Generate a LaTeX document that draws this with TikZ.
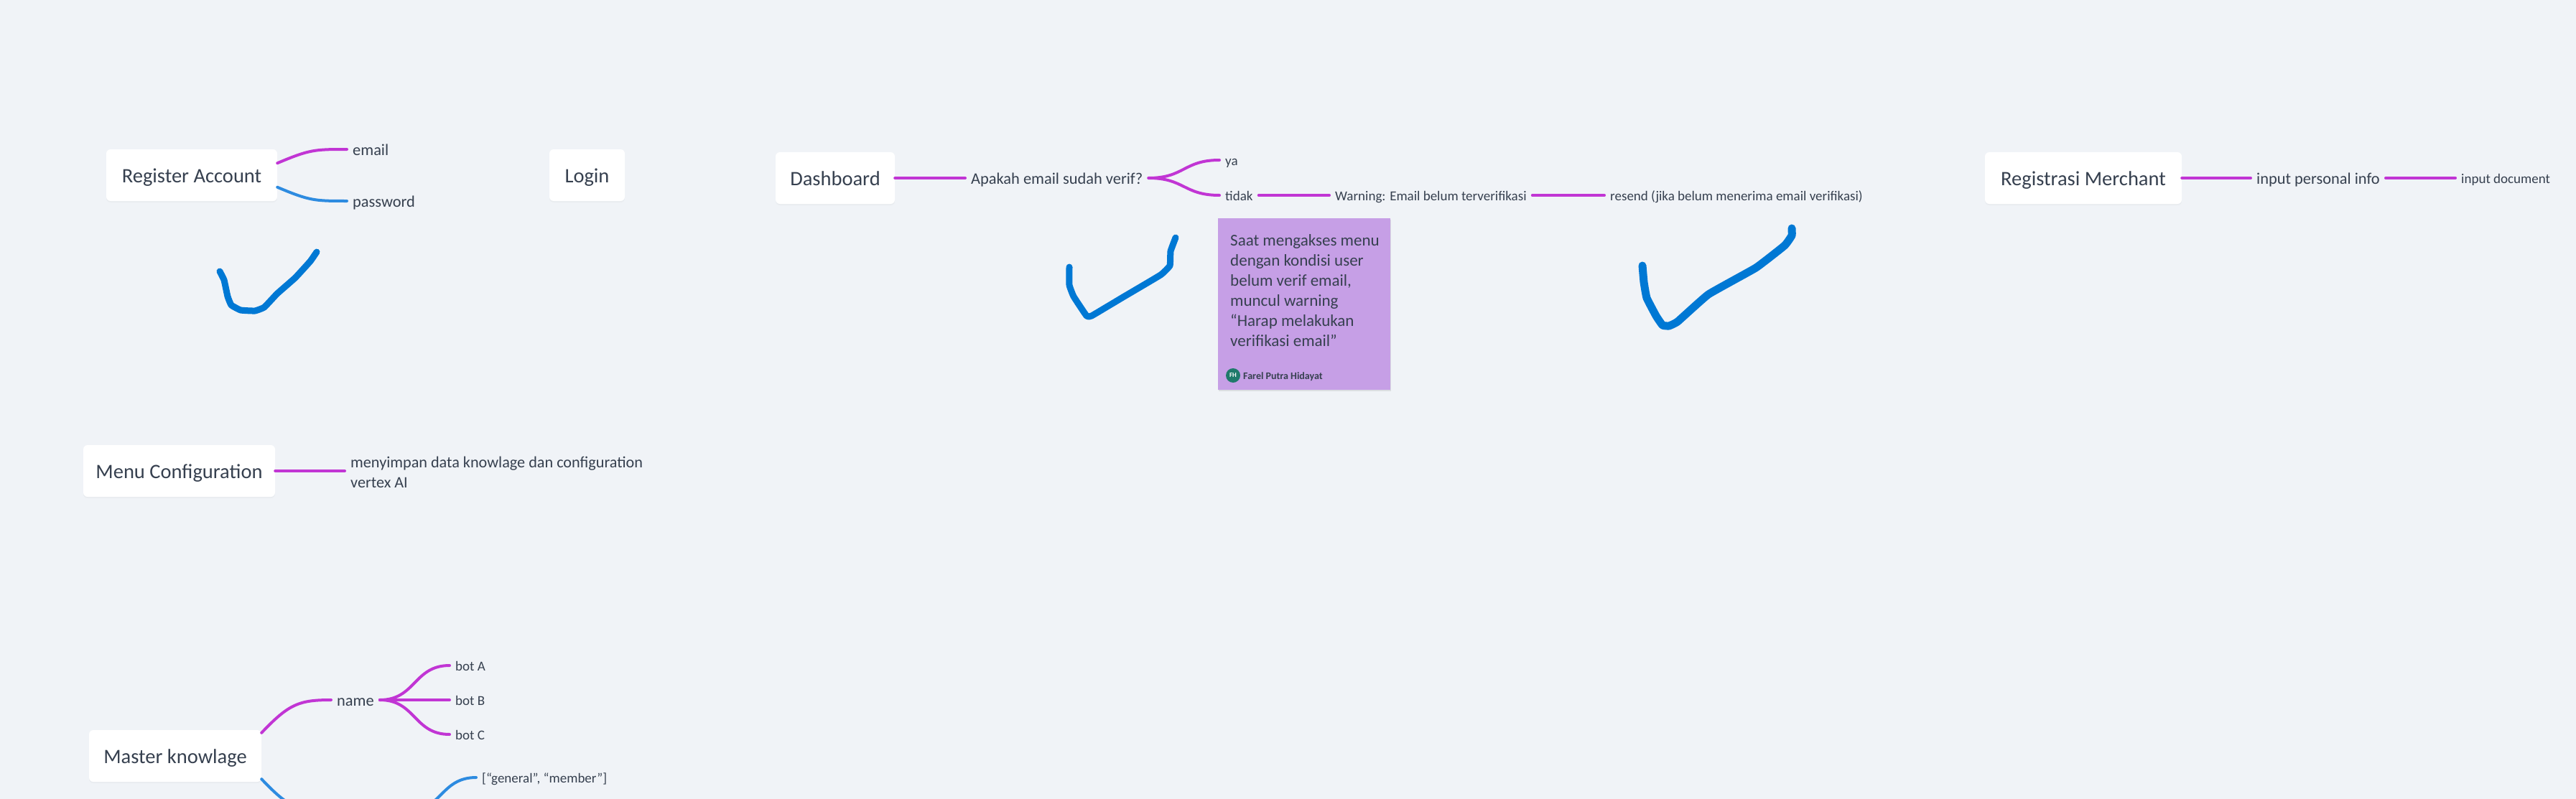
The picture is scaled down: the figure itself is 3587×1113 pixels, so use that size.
\documentclass[tikz,border=0pt]{standalone}
\usepackage{fontspec}
\setmainfont{Carlito}
\usetikzlibrary{shadows}

\definecolor{canvasbg}{HTML}{F0F3F7}
\definecolor{inkdark}{HTML}{36404F}
\definecolor{branchpurple}{HTML}{C135D4}
\definecolor{branchblue}{HTML}{2D8BE0}
\definecolor{tickblue}{HTML}{0078D4}
\definecolor{stickylilac}{HTML}{C69FE6}
\definecolor{avatargreen}{HTML}{1F7A6B}

\tikzset{
  rootbox/.style={fill=white,rounded corners=6pt,text=inkdark,minimum height=72pt,inner xsep=0pt,inner ysep=0pt,
    text height=22pt,text depth=2pt,font=\fontsize{28.5}{30}\selectfont,
    drop shadow={shadow xshift=0pt,shadow yshift=-2pt,opacity=0.06}},
  leafblock/.style={anchor=west,text=inkdark,inner xsep=8pt,inner ysep=0pt,font=\fontsize{22.2}{28}\selectfont},
  leaf/.style={leafblock,text height=19pt,text depth=3pt,font=\fontsize{22.4}{28}\selectfont},
  leafsmall/.style={leaf,text height=17pt,text depth=3pt,font=\fontsize{19}{24}\selectfont},
  purpleline/.style={draw=branchpurple,line width=4pt,line cap=round},
  blueline/.style={draw=branchblue,line width=4pt,line cap=round},
  tick/.style={draw=tickblue,line cap=round,line join=round,line width=9pt}
}

\begin{document}
\begin{tikzpicture}[x=1pt,y=-1pt]

\useasboundingbox (0,0) rectangle (3587,1113);
\clip (0,0) rectangle (3587,1113);
\fill[canvasbg] (0,0) rectangle (3587,1113);

% register and login
\node[rootbox,minimum width=238pt] (register) at (267,244) {Register Account};
\node[rootbox,minimum width=105pt] (login) at (817.5,244) {Login};
\node[leaf] (email) at (483,208) {email};
\node[leaf] (password) at (483,280) {password};

\draw[purpleline] (register.8) .. controls +(45,-19) and +(-45,0) .. (email.west);
\draw[blueline] (register.-8) .. controls +(45,19) and +(-45,0) .. (password.west);

\draw[tick] plot[smooth,tension=0.2] coordinates {(306,378) (312,390) (317,413) (322,425) (335,432) (355,433) (368,428) (386,409) (411,387) (432,364) (441,351)};

% dashboard
\node[rootbox,minimum width=166pt] (dashboard) at (1163,248) {Dashboard};
\node[leaf] (verif) at (1344,248) {Apakah email sudah verif?};
\node[leafsmall] (ya) at (1698,223) {ya};
\node[leafsmall] (tidak) at (1698,272) {tidak};
\node[leafsmall] (warning) at (1851,272) {Warning: Email belum terverifikasi};
\node[leafsmall] (resend) at (2234,272) {resend (jika belum menerima email verifikasi)};

\draw[purpleline] (dashboard.east) -- (verif.west);
\draw[purpleline] (verif.east) .. controls +(50,0) and +(-50,0) .. (ya.west);
\draw[purpleline] (verif.east) .. controls +(50,0) and +(-50,0) .. (tidak.west);
\draw[purpleline] (tidak.east) -- (warning.west);
\draw[purpleline] (warning.east) -- (resend.west);

\draw[tick] plot[smooth,tension=0.2] coordinates {(1489,372) (1489,397) (1495,413) (1513,440) (1520,440) (1562,415) (1616,383) (1629,370) (1630,350) (1637,331)};
\draw[tick,line width=11pt] plot[smooth,tension=0.2] coordinates {(2287,370) (2289,393) (2293,415) (2306,440) (2315,453) (2324,454) (2336,448) (2379,410) (2445,373) (2485,342) (2495,328) (2495,318)};

% sticky note
\node[fill=stickylilac,minimum width=240pt,minimum height=239pt,inner sep=0pt,
  drop shadow={shadow xshift=1pt,shadow yshift=-2pt,opacity=0.18}] (sticky) at (1816,423.5) {};
\node[anchor=north west,text=inkdark,align=left,inner sep=0pt,font=\fontsize{23}{28}\selectfont] (stickytext) at (1713,326)
  {Saat mengakses menu\\dengan kondisi user\\belum verif email,\\muncul warning\\``Harap melakukan\\verifikasi email''};
\node[circle,fill=avatargreen,text=white,inner sep=0pt,minimum size=20pt,font=\fontsize{9}{10}\selectfont\bfseries] (avatar) at (1717,523) {FH};
\node[anchor=west,text=inkdark,inner sep=0pt,font=\fontsize{14}{16}\selectfont\bfseries] (author) at (1731,525) {Farel Putra Hidayat};

% merchant
\node[rootbox,minimum width=274pt] (merchant) at (2901,248) {Registrasi Merchant};
\node[leaf] (personal) at (3134,248) {input personal info};
\node[leafsmall] (document) at (3419,248) {input document};

\draw[purpleline] (merchant.east) -- (personal.west);
\draw[purpleline] (personal.east) -- (document.west);

% configuration
\node[rootbox,minimum width=267pt] (config) at (249.5,656) {Menu Configuration};
\node[leafblock,align=left] (vertex) at (480,658) {menyimpan data knowlage dan configuration\\vertex AI};

\draw[purpleline] (config.east) -- (vertex.west |- config.east);

% master knowlage
\node[rootbox,minimum width=240pt] (master) at (244,1053) {Master knowlage};
\node[leaf] (name) at (461,975) {name};
\node[leafsmall] (bota) at (626,927) {bot A};
\node[leafsmall] (botb) at (626,975) {bot B};
\node[leafsmall] (botc) at (626,1023) {bot C};
\node[leafsmall] (general) at (663,1083) {[``general'', ``member'']};
\coordinate (typeroot) at (461,1131);
\coordinate (typefork) at (565,1131);

\draw[purpleline] (master.15) .. controls +(38,-40) and +(-45,0) .. (name.west);
\draw[purpleline] (name.east) .. controls +(50,0) and +(-50,0) .. (bota.west);
\draw[purpleline] (name.east) -- (botb.west);
\draw[purpleline] (name.east) .. controls +(50,0) and +(-50,0) .. (botc.west);
\draw[blueline] (master.-15) .. controls +(38,40) and +(-45,0) .. (typeroot);
\draw[blueline] (typefork) .. controls +(50,0) and +(-50,0) .. (general.west);

\end{tikzpicture}
\end{document}
